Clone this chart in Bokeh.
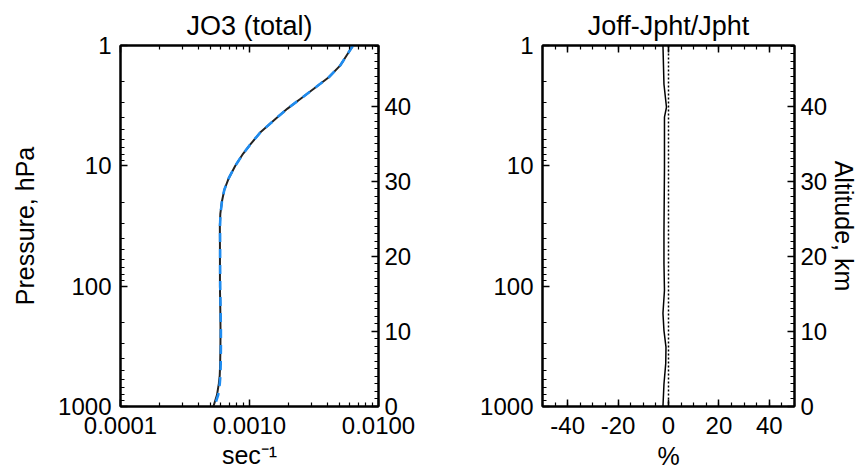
from bokeh.plotting import figure
from bokeh.models import (Range1d, LinearAxis, LogAxis, FixedTicker, LinearScale,
                          SingleIntervalTicker, PrintfTickFormatter, Span)
from bokeh.layouts import row
from bokeh.embed import file_html
from bokeh.resources import INLINE

FONT = "Liberation Sans"

# ---------------- data ----------------
pressure_jo3 = [1, 1.2, 1.47, 1.835, 2.29, 2.77, 3.36, 4.20, 5.26, 6.56, 7.94,
                10, 12.6, 15.8, 20, 25.1, 31.6, 47.5, 70, 100, 160, 234,
                330, 443, 550, 649, 800, 1000]
jo3_black = [0.00635, 0.00569, 0.00504, 0.00412, 0.00315, 0.00249, 0.00196,
             0.00154, 0.001216, 0.001023, 0.000891, 0.000776, 0.000692,
             0.000638, 0.000610, 0.000594, 0.000589, 0.000590, 0.000590,
             0.000590, 0.000594, 0.000596, 0.000595, 0.000592, 0.000588,
             0.000578, 0.000560, 0.000525]
jo3_blue = [0.00635, 0.00569, 0.00504, 0.00412, 0.00315, 0.00249, 0.00196,
            0.00154, 0.001216, 0.001023, 0.000891, 0.000776, 0.000692,
            0.000638, 0.000611, 0.000596, 0.000591, 0.000592, 0.000592,
            0.000593, 0.000597, 0.000600, 0.000600, 0.000598, 0.000595,
            0.000588, 0.000572, 0.000535]

pressure_diff = [1, 2.1, 3.26, 3.94, 10.3, 36.7, 65, 108, 168, 234, 321, 440,
                 650, 1000]
diff_pct = [-2.2, -1.8, -0.8, -1.6, -1.6, -1.8, -1.8, -1.6, -2.2, -1.8, -1.0,
            -1.1, -1.8, -2.2]

p_ticks = [1, 10, 100, 1000]
p_minor = [k * 10 ** n for n in range(3) for k in range(2, 10)]
jx_ticks = [0.0001, 0.001, 0.01]
jx_minor = [k * 10.0 ** n for n in (-4, -3) for k in range(2, 10)]
alt_ticks = [0, 10, 20, 30, 40]
alt_minor = list(range(0, 49))

P_RANGE = (1000, 1)
ALT_RANGE = (0, 48.1)


def style_axis(ax, show_labels=True):
    ax.axis_line_color = "black"
    ax.axis_line_width = 2
    ax.major_tick_in = 7
    ax.major_tick_out = 0
    ax.minor_tick_in = 4
    ax.minor_tick_out = 0
    ax.major_tick_line_color = "black"
    ax.major_tick_line_width = 1.5
    ax.minor_tick_line_color = "black"
    ax.minor_tick_line_width = 1.2
    ax.major_label_text_font = FONT
    ax.major_label_text_font_size = "24px" if show_labels else "2px"
    ax.major_label_text_color = "black" if show_labels else None
    ax.axis_label_text_font = FONT
    ax.axis_label_text_font_size = "25px"
    ax.axis_label_text_font_style = "normal"
    ax.axis_label_text_color = "black"


def make_fig(title, width, left, right, x_axis_type, x_range):
    p = figure(width=width, height=475, x_axis_type=x_axis_type,
               y_axis_type="log", x_range=Range1d(*x_range),
               y_range=Range1d(*P_RANGE), output_backend="svg",
               toolbar_location=None, min_border_left=left,
               min_border_right=right, min_border_top=45,
               min_border_bottom=69, title=title)
    p.extra_y_ranges = {"alt": Range1d(*ALT_RANGE)}
    p.extra_y_scales = {"alt": LinearScale()}
    p.xgrid.visible = False
    p.ygrid.visible = False
    p.outline_line_color = "black"
    p.outline_line_width = 2
    p.title.text_font = FONT
    p.title.text_font_size = "27px"
    p.title.text_font_style = "normal"
    p.title.align = "center"
    p.title.text_color = "black"
    p.background_fill_color = "white"
    p.border_fill_color = "white"
    # left pressure axis
    ly = p.yaxis[0]
    ly.ticker = FixedTicker(ticks=p_ticks, minor_ticks=p_minor)
    ly.formatter = PrintfTickFormatter(format="%d")
    style_axis(ly)
    ly.major_label_standoff = 9
    # right altitude axis
    ra = LinearAxis(y_range_name="alt",
                    ticker=FixedTicker(ticks=alt_ticks, minor_ticks=alt_minor),
                    formatter=PrintfTickFormatter(format="%d"))
    style_axis(ra)
    ra.major_label_standoff = 6
    p.add_layout(ra, "right")
    return p, ly, ra


# ---------------- left panel ----------------
p1, ly1, ra1 = make_fig("JO3 (total)", 430, 120, 52, "log", (0.0001, 0.01))
ly1.axis_label = "Pressure, hPa"
ly1.axis_label_standoff = 16
bx1 = p1.xaxis[0]
bx1.ticker = FixedTicker(ticks=jx_ticks, minor_ticks=jx_minor)
bx1.formatter = PrintfTickFormatter(format="%.4f")
style_axis(bx1)
bx1.major_label_standoff = 10
bx1.axis_label = "sec⁻¹"
bx1.axis_label_standoff = 4
tx1 = LogAxis(ticker=FixedTicker(ticks=jx_ticks, minor_ticks=jx_minor))
style_axis(tx1, show_labels=False)
tx1.major_label_standoff = 0
p1.add_layout(tx1, "above")

p1.line(jo3_black, pressure_jo3, line_color="#222222", line_width=2)
p1.line(jo3_blue, pressure_jo3, line_color="#1f8cf0", line_width=2.6,
        line_dash="9 7")

# ---------------- right panel ----------------
p2, ly2, ra2 = make_fig("Joff-Jpht/Jpht", 431, 112, 62, "linear", (-50, 50))
ra2.axis_label = "Altitude, km"
ra2.axis_label_standoff = 0
bx2 = p2.xaxis[0]
bx2.ticker = SingleIntervalTicker(interval=20, num_minor_ticks=4)
bx2.formatter = PrintfTickFormatter(format="%d")
style_axis(bx2)
bx2.major_label_standoff = 10
bx2.axis_label = "%"
bx2.axis_label_standoff = 5
tx2 = LinearAxis(ticker=SingleIntervalTicker(interval=20, num_minor_ticks=4))
style_axis(tx2, show_labels=False)
tx2.major_label_standoff = 0
p2.add_layout(tx2, "above")

p2.add_layout(Span(location=0, dimension="height", line_color="black",
                   line_width=1.5, line_dash="2 2"))
p2.line(diff_pct, pressure_diff, line_color="black", line_width=1.5)

layout = row(p1, p2)
open("out.html", "w").write(file_html(layout, INLINE))
